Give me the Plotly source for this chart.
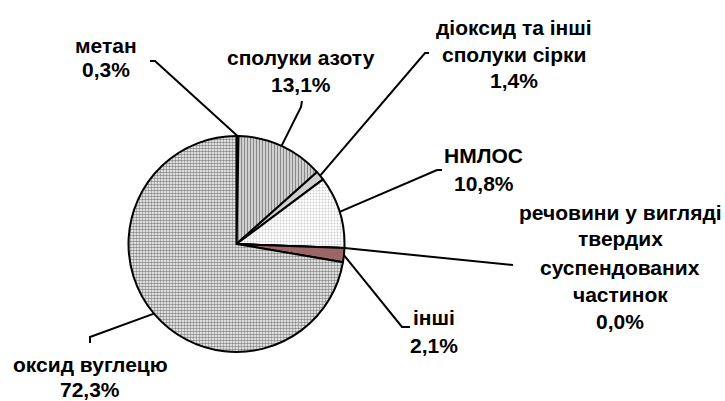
import math
import plotly.graph_objects as go

W, H = 725, 401

# ---- data ----
categories = ["метан", "сполуки азоту", "діоксид та інші сполуки сірки", "НМЛОС",
              "речовини у вигляді твердих суспендованих частинок", "інші", "оксид вуглецю"]
values = [0.3, 13.1, 1.4, 10.8, 0.0, 2.1, 72.3]
label_lines = [
    ["метан", "0,3%"],
    ["сполуки азоту", "13,1%"],
    ["діоксид та інші", "сполуки сірки", "1,4%"],
    ["НМЛОС", "10,8%"],
    ["речовини у вигляді", "твердих", "суспендованих", "частинок", "0,0%"],
    ["інші", "2,1%"],
    ["оксид вуглецю", "72,3%"],
]

# ---- style ----
bgs = ["#000000", "#dedede", "#cfcfcf", "#ffffff", "#ffffff", "#9c6666", "#ffffff"]
pat_shape = ["", "|", "", ".", "", "", "."]
pat_fg = ["#000000", "#8a8a8a", "#cfcfcf", "#cccccc", "#ffffff", "#9c6666", "#8a8a8a"]
pat_size = [6, 3, 6, 3, 6, 6, 3]
pat_sol = [0.3, 0.45, 0.3, 0.3, 0.3, 0.3, 0.55]

# pie geometry in pixels
cx, cy, R = 236.5, 244.0, 108.0
dom_x = [(cx - R) / W, (cx + R) / W]
dom_y = [1 - (cy + R) / H, 1 - (cy - R) / H]

# label positions (pixels): text centre x, line centre y's; leader elbow & tail
label_x = [106, 301, 514, 484, 620, 434, 90]
label_y = [[45, 69], [57, 84], [28, 54, 80], [155, 183], [212, 239, 267, 294, 321], [317, 345], [364, 389]]
elbow = [(155, 61), (301, 107), (425, 53), (437, 170), (513, 265), (402, 327), (90, 337)]
tail = [(150, 61), (302, 101), (429, 53), (442, 170), (513, 265), (410, 327), (90, 343)]

fig = go.Figure(go.Pie(
    labels=categories, values=values, sort=False, direction="clockwise", rotation=0,
    textinfo="none", hoverinfo="label+percent", showlegend=False,
    domain=dict(x=dom_x, y=dom_y),
    marker=dict(colors=bgs, line=dict(color="#000000", width=2),
                pattern=dict(shape=pat_shape, fgcolor=pat_fg, bgcolor=bgs,
                             size=pat_size, solidity=pat_sol, fillmode="replace")),
))


def px(x):
    return x / W


def py(y):
    return 1 - y / H


shapes = []
annotations = []
total = sum(values)
cum = 0.0
for i, v in enumerate(values):
    mid = (cum + v / 2) / total * 2 * math.pi
    cum += v
    sx = cx + R * math.sin(mid)
    sy = cy - R * math.cos(mid)
    ex, ey = elbow[i]
    tx, ty = tail[i]
    path = f"M {px(sx)} {py(sy)} L {px(ex)} {py(ey)} L {px(tx)} {py(ty)}"
    shapes.append(dict(type="path", xref="paper", yref="paper", path=path,
                       line=dict(color="#000000", width=2)))
    for line, yy in zip(label_lines[i], label_y[i]):
        annotations.append(dict(x=px(label_x[i]), y=py(yy), xref="paper", yref="paper",
                                text=f"<b>{line}</b>", showarrow=False,
                                xanchor="center", yanchor="middle",
                                font=dict(family="Liberation Sans, Arial", size=21, color="#000000")))

fig.update_layout(width=W, height=H, margin=dict(l=0, r=0, t=0, b=0),
                  paper_bgcolor="#ffffff", plot_bgcolor="#ffffff",
                  shapes=shapes, annotations=annotations)
fig.write_html("out.html", config={"displayModeBar": False},
               post_script="document.body.style.margin='0';document.body.style.overflow='hidden';")
